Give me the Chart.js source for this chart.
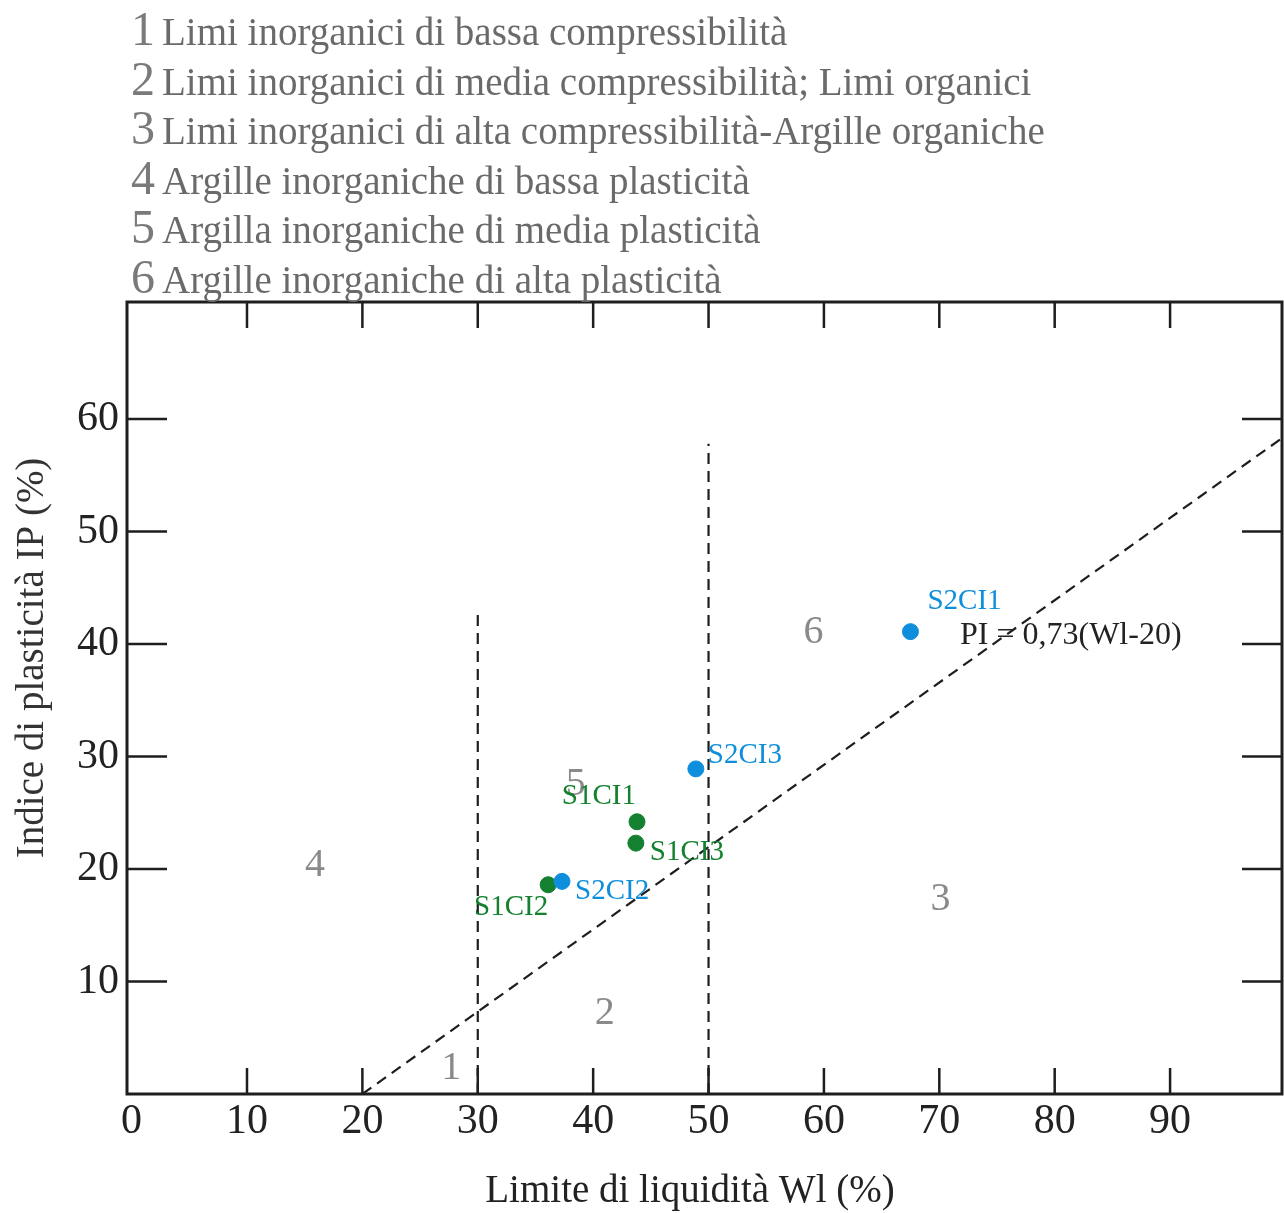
<!DOCTYPE html>
<html>
<head>
<meta charset="utf-8">
<script src="https://cdn.jsdelivr.net/npm/chart.js@4"></script>
<style>
  html, body { margin: 0; padding: 0; background: #fff; }
  #grafico { display: block; }
</style>
</head>
<body>
<canvas id="grafico" width="1284" height="1213"></canvas>
<script>
// Legenda delle zone (carta di plasticità)
const zoneNumbers = ["1", "2", "3", "4", "5", "6"];
const zoneNames = [
  "Limi inorganici di bassa compressibilità",
  "Limi inorganici di media compressibilità; Limi organici",
  "Limi inorganici di alta compressibilità-Argille organiche",
  "Argille inorganiche di bassa plasticità",
  "Argilla inorganiche di media plasticità",
  "Argille inorganiche di alta plasticità"
];
// posizione dei numeri di zona nel grafico (Wl, IP)
const zoneX = [27.7, 41.0, 70.1, 15.9, 38.5, 59.1];
const zoneY = [2.3, 7.2, 17.3, 20.3, 27.5, 41];

// Campioni S1 (verde) e S2 (blu)
const s1Labels = ["S1CI1", "S1CI2", "S1CI3"];
const s1Wl = [43.8, 36.1, 43.7];
const s1Ip = [24.2, 18.6, 22.3];
const s2Labels = ["S2CI1", "S2CI2", "S2CI3"];
const s2Wl = [67.5, 37.3, 48.9];
const s2Ip = [41.1, 18.9, 28.9];

// Linea A: PI = 0,73(Wl-20)
const lineaWl = [20, 99.7];
const lineaIp = [0, 58.3];
// limiti verticali Wl = 30 e Wl = 50
const lim30Wl = [30, 30];
const lim30Ip = [0, 42.8];
const lim50Wl = [50, 50];
const lim50Ip = [0, 57.8];

const xTicks = [0, 10, 20, 30, 40, 50, 60, 70, 80, 90];
const yTicks = [10, 20, 30, 40, 50, 60];

const BLU = "#0f8fdb";
const VERDE = "#13812f";
const SERIF = "'Liberation Serif', 'DejaVu Serif', serif";

const pts = (xs, ys) => xs.map((x, i) => ({ x: x, y: ys[i] }));

// offset delle etichette dei punti [dx, dy, allineamento]
const s1Pos = [[-1, -25, "right"], [0, 23, "right"], [14, 9, "left"]];
const s2Pos = [[17, -30, "left"], [13, 10, "left"], [12, -13, "left"]];

const decorazioni = {
  id: "decorazioni",
  afterDraw(chart) {
    const ctx = chart.ctx;
    const a = chart.chartArea;
    const xs = chart.scales.x, ys = chart.scales.y;
    ctx.save();

    // cornice e tacche interne
    ctx.strokeStyle = "#1e1e1e";
    ctx.lineWidth = 3;
    ctx.strokeRect(a.left, a.top, a.right - a.left, a.bottom - a.top);
    ctx.lineWidth = 2.5;
    ctx.beginPath();
    xTicks.forEach(v => {
      if (v === 0) return;
      const px = xs.getPixelForValue(v);
      ctx.moveTo(px, a.bottom); ctx.lineTo(px, a.bottom - 26);
      ctx.moveTo(px, a.top); ctx.lineTo(px, a.top + 26);
    });
    yTicks.forEach(v => {
      const py = ys.getPixelForValue(v);
      ctx.moveTo(a.left, py); ctx.lineTo(a.left + 40, py);
      ctx.moveTo(a.right, py); ctx.lineTo(a.right - 40, py);
    });
    ctx.stroke();

    // numeri di zona
    ctx.fillStyle = "#8a8a8a";
    ctx.font = "40px " + SERIF;
    ctx.textAlign = "center";
    ctx.textBaseline = "middle";
    zoneNumbers.forEach((n, i) => {
      ctx.fillText(n, xs.getPixelForValue(zoneX[i]), ys.getPixelForValue(zoneY[i]));
    });

    // etichette dei campioni
    ctx.font = "29px " + SERIF;
    const etichette = (idx, labels, pos, col) => {
      const meta = chart.getDatasetMeta(idx);
      ctx.fillStyle = col;
      meta.data.forEach((el, i) => {
        ctx.textAlign = pos[i][2];
        ctx.fillText(labels[i], el.x + pos[i][0], el.y + pos[i][1]);
      });
    };
    etichette(0, s2Labels, s2Pos, BLU);
    etichette(1, s1Labels, s1Pos, VERDE);

    // equazione della linea A
    ctx.fillStyle = "#222";
    ctx.textAlign = "left";
    ctx.font = "32px " + SERIF;
    ctx.fillText("PI = 0,73(Wl-20)", 960, 636);

    // titoli degli assi
    ctx.font = "39px " + SERIF;
    ctx.textAlign = "center";
    ctx.fillStyle = "#222";
    ctx.fillText("Limite di liquidità Wl (%)", 690, 1192);
    ctx.save();
    ctx.translate(33, 658);
    ctx.rotate(-Math.PI / 2);
    ctx.fillStyle = "#333";
    ctx.fillText("Indice di plasticità IP (%)", 0, 0);
    ctx.restore();

    // legenda in alto
    ctx.textAlign = "left";
    ctx.textBaseline = "alphabetic";
    zoneNames.forEach((t, i) => {
      const base = 45 + i * 49.6;
      ctx.fillStyle = "#7a7a7a";
      ctx.font = "48px " + SERIF;
      ctx.fillText(zoneNumbers[i], 131, base);
      ctx.fillStyle = "#6a6a6a";
      ctx.font = "39px " + SERIF;
      ctx.fillText(t, 162, base);
    });
    ctx.restore();
  }
};

const ctx = document.getElementById("grafico").getContext("2d");
new Chart(ctx, {
  type: "scatter",
  data: {
    datasets: [
      {
        label: "S2",
        data: pts(s2Wl, s2Ip),
        backgroundColor: BLU,
        borderColor: BLU,
        pointRadius: 8
      },
      {
        label: "S1",
        data: pts(s1Wl, s1Ip),
        backgroundColor: VERDE,
        borderColor: VERDE,
        pointRadius: 8
      },
      {
        label: "PI = 0,73(Wl-20)",
        type: "line",
        data: pts(lineaWl, lineaIp),
        borderColor: "#1e1e1e",
        borderWidth: 2.2,
        borderDash: [11, 7],
        pointRadius: 0,
        fill: false
      },
      {
        label: "Wl = 30",
        type: "line",
        data: pts(lim30Wl, lim30Ip),
        borderColor: "#1e1e1e",
        borderWidth: 2.2,
        borderDash: [11, 7],
        pointRadius: 0,
        fill: false
      },
      {
        label: "Wl = 50",
        type: "line",
        data: pts(lim50Wl, lim50Ip),
        borderColor: "#1e1e1e",
        borderWidth: 2.2,
        borderDash: [11, 7],
        pointRadius: 0,
        fill: false
      }
    ]
  },
  options: {
    responsive: false,
    animation: false,
    layout: { autoPadding: false, padding: { top: 302, right: 2, left: 0, bottom: 0 } },
    plugins: {
      legend: { display: false },
      tooltip: { enabled: false }
    },
    scales: {
      x: {
        type: "linear",
        min: -0.4,
        max: 99.7,
        afterBuildTicks: s => { s.ticks = xTicks.map(v => ({ value: v })); },
        afterFit: s => { s.height = 119; s.paddingLeft = 0; s.paddingRight = 0; },
        grid: { display: false, drawTicks: false },
        border: { display: false },
        ticks: { color: "#222", font: { family: SERIF, size: 42 }, padding: 3, maxRotation: 0 }
      },
      y: {
        type: "linear",
        min: 0,
        max: 70.4,
        afterBuildTicks: s => { s.ticks = yTicks.map(v => ({ value: v })); },
        afterFit: s => { s.width = 127; s.paddingTop = 0; s.paddingBottom = 0; },
        grid: { display: false, drawTicks: false },
        border: { display: false },
        ticks: { color: "#222", font: { family: SERIF, size: 42 }, padding: 8 }
      }
    }
  },
  plugins: [decorazioni]
});
</script>
</body>
</html>
